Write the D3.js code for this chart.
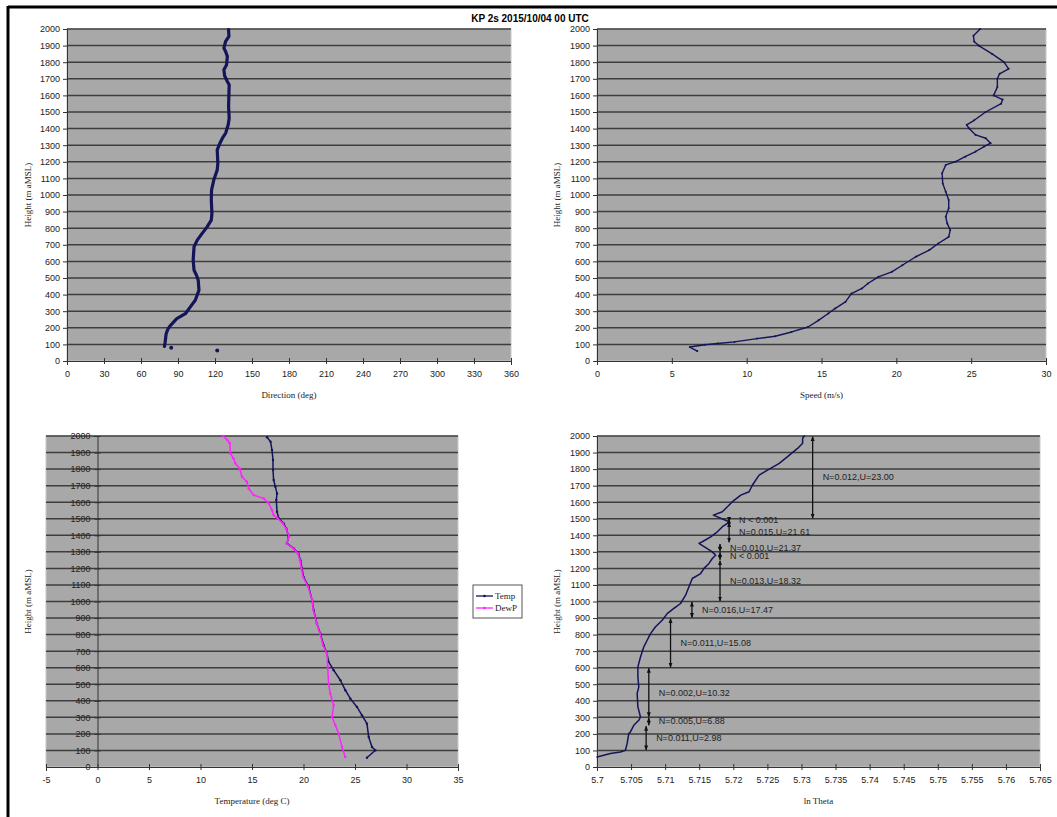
<!DOCTYPE html>
<html>
<head>
<meta charset="utf-8">
<script src="https://cdn.jsdelivr.net/npm/d3@7"></script>
<style>
  body { margin: 0; background: #fff; }
  .tick text { font-family: "Liberation Sans", Arial, sans-serif; font-size: 9px; fill: #222; }
  .title-axis { font-family: "Liberation Serif", "Times New Roman", serif; font-size: 9px; fill: #222; }
  .note { font-family: "Liberation Sans", Arial, sans-serif; font-size: 9px; fill: #222; }
</style>
</head>
<body>
<svg id="chart" width="1057" height="817"></svg>
<script>
// Profile data: [value, height m]
const directionProfile = [[79,88],[79.5,110],[80,140],[80.4,165],[82,195],[84,215],[89,255],[96,285],[100,326],[104,366],[107,427],[106.4,487],[105,517],[103,547],[102.3,608],[103,688],[105.6,728],[109.6,769],[113.7,809],[117,849],[117.5,889],[117,970],[117.2,1030],[119,1090],[121.8,1151],[122.3,1191],[121.8,1272],[124,1312],[126,1342],[128.6,1372],[130.7,1423],[131.5,1463],[131,1533],[131.3,1614],[131.5,1664],[130,1684],[127.8,1718],[127.2,1755],[129.4,1785],[130,1835],[128.6,1865],[127.2,1885],[128.6,1925],[131.3,1956],[131,1996]];
const directionStray = [[84.5,80],[121.8,64]];

const speedProfile = [[6.7,60],[6.2,84],[7.2,98],[8.06,105],[9.18,115],[10.7,135],[11.9,149],[13.0,175],[14.1,205],[14.8,245],[15.45,286],[15.9,316],[16.6,356],[17.0,406],[17.7,437],[18.1,467],[18.8,507],[19.7,537],[20.4,577],[21.3,628],[22.2,668],[22.8,708],[23.5,748],[23.6,789],[23.4,829],[23.3,869],[23.5,920],[23.5,970],[23.3,1020],[23.1,1070],[23.06,1131],[23.3,1181],[23.96,1201],[24.6,1231],[25.3,1262],[25.86,1292],[26.3,1312],[25.97,1342],[25.3,1362],[24.85,1402],[24.7,1423],[25.2,1450],[25.97,1500],[27.0,1550],[27.1,1575],[26.5,1600],[26.75,1650],[26.75,1700],[26.9,1730],[27.5,1760],[27.2,1800],[26.4,1850],[25.5,1900],[25.2,1925],[25.15,1960],[25.6,2000]];

const tempProfile = [[26.16,56],[26.97,101],[26.65,121],[26.33,181],[26.16,262],[25.68,312],[25.19,363],[24.55,413],[24.06,464],[23.58,524],[22.93,585],[22.44,635],[22.28,685],[21.96,736],[21.63,806],[21.3,867],[20.99,948],[20.83,1008],[20.5,1089],[20.0,1149],[19.85,1200],[19.7,1250],[19.5,1290],[19.04,1321],[18.4,1351],[18.56,1391],[18.33,1441],[18.07,1472],[17.6,1502],[17.43,1542],[17.36,1613],[17.43,1653],[17.27,1693],[17.1,1734],[17.04,1794],[17.04,1855],[16.94,1915],[16.8,1966],[16.46,1992]];
const dewpProfile = [[24.06,60],[23.74,121],[23.41,202],[23.09,252],[22.77,302],[22.93,373],[22.6,444],[22.44,504],[22.35,605],[22.28,685],[21.9,736],[21.6,806],[21.3,867],[20.95,948],[20.85,1008],[20.45,1089],[19.95,1149],[19.8,1200],[19.65,1250],[19.45,1290],[19.0,1321],[18.35,1351],[18.6,1391],[18.3,1441],[18.0,1472],[17.5,1502],[17.1,1522],[16.94,1552],[16.62,1593],[16.13,1623],[15.16,1643],[14.68,1683],[14.5,1724],[14.03,1754],[13.8,1804],[13.38,1835],[13.2,1865],[12.9,1895],[12.85,1956],[12.6,1976],[12.2,2000]];

const lnThetaProfile = [[5.7,60],[5.70196,81],[5.70343,91],[5.70417,101],[5.70442,141],[5.70466,202],[5.7049,212],[5.7054,252],[5.70613,282],[5.70638,302],[5.706,363],[5.70589,444],[5.70613,484],[5.706,544],[5.706,605],[5.70638,665],[5.70687,726],[5.70736,766],[5.70785,806],[5.70859,847],[5.70957,887],[5.7103,927],[5.71128,958],[5.71226,988],[5.713,1038],[5.71349,1089],[5.71398,1139],[5.71521,1169],[5.7157,1200],[5.71643,1230],[5.71692,1260],[5.71741,1280],[5.71692,1300],[5.71496,1351],[5.71545,1361],[5.71668,1391],[5.71766,1421],[5.7184,1452],[5.71913,1472],[5.71938,1482],[5.71707,1522],[5.7184,1542],[5.71913,1573],[5.71987,1603],[5.7211,1643],[5.72232,1663],[5.72281,1704],[5.72379,1764],[5.72502,1794],[5.72674,1835],[5.72796,1875],[5.72943,1925],[5.73017,1956],[5.73017,1986],[5.73042,2000]];

// Layer annotations: [ln theta position, top height, bottom height, label]
const layerNotes = [
  [5.73164, 2000, 1500, "N=0.012,U=23.00"],
  [5.71938, 1500, 1480, "N < 0.001"],
  [5.71938, 1480, 1355, "N=0.015,U=21.61"],
  [5.71805, 1350, 1300, "N=0.010,U=21.37"],
  [5.71805, 1300, 1250, "N < 0.001"],
  [5.71805, 1250, 1000, "N=0.013,U=18.32"],
  [5.71393, 1000, 900, "N=0.016,U=17.47"],
  [5.71079, 900, 600, "N=0.011,U=15.08"],
  [5.7076, 600, 300, "N=0.002,U=10.32"],
  [5.7076, 300, 250, "N=0.005,U=6.88"],
  [5.70721, 250, 100, "N=0.011,U=2.98"]
];

const heightTicks = d3.range(0, 2001, 100);
const directionTicks = d3.range(0, 361, 30);
const speedTicks = d3.range(0, 31, 5);
const tempTicks = d3.range(-5, 36, 5);
const lnThetaTicks = d3.range(0, 14).map(i => +(5.7 + i * 0.005).toFixed(3));
const legendItems = ["Temp", "DewP"];

const title = "KP 2s 2015/10/04 00 UTC";
const navy = "#14145a";
const pink = "#ff22ff";

const svg = d3.select("#chart");

// small arrow heads for the layer notes
const defs = svg.append("defs");
["start", "end"].forEach(k => {
  defs.append("marker")
    .attr("id", "arrow-" + k)
    .attr("viewBox", "0 0 10 10")
    .attr("refX", 9).attr("refY", 5)
    .attr("markerUnits", "userSpaceOnUse")
    .attr("markerWidth", 5).attr("markerHeight", 5)
    .attr("orient", k === "start" ? "auto-start-reverse" : "auto")
    .append("path")
    .attr("d", "M0,1L10,5L0,9z")
    .attr("fill", "#111");
});

// outer frame (only top and left edges show)
svg.append("line").attr("x1", 8).attr("x2", 1057).attr("y1", 7).attr("y2", 7)
  .attr("stroke", "#000").attr("stroke-width", 3);
svg.append("line").attr("x1", 8).attr("x2", 8).attr("y1", 6).attr("y2", 817)
  .attr("stroke", "#000").attr("stroke-width", 3);

svg.append("text")
  .attr("x", 530).attr("y", 22)
  .attr("text-anchor", "middle")
  .style("font-family", "'Liberation Sans', Arial, sans-serif")
  .style("font-size", "10px").style("font-weight", "bold")
  .text(title);

// draws one panel and returns its scales
const panel = (opt) => {
  const x = d3.scaleLinear().domain(opt.xDomain).range([opt.left, opt.right]);
  const y = d3.scaleLinear().domain([0, 2000]).range([opt.bottom, opt.top]);
  const g = svg.append("g");

  g.append("rect")
    .attr("x", opt.left).attr("y", opt.top)
    .attr("width", opt.right - opt.left).attr("height", opt.bottom - opt.top)
    .attr("fill", "#a8a8a8").attr("stroke", "#c8c8c8");

  // gridlines
  g.selectAll(".grid").data(heightTicks.filter(d => d > 0)).enter()
    .append("line")
    .attr("x1", opt.left).attr("x2", opt.right)
    .attr("y1", d => y(d)).attr("y2", d => y(d))
    .attr("stroke", "#3e3e3e").attr("stroke-width", 1.5);

  const yAxisX = opt.yAxisAt !== undefined ? x(opt.yAxisAt) : opt.left;

  const ya = g.append("g")
    .attr("transform", `translate(${yAxisX},0)`)
    .call(d3.axisLeft(y).tickValues(heightTicks).tickSize(4).tickPadding(3)
      .tickFormat(d => String(d)));
  ya.select(".domain").attr("stroke", "#333");
  ya.selectAll(".tick line").attr("stroke", "#333");
  if (opt.yAxisAt !== undefined) ya.selectAll(".tick line").attr("x2", 3).attr("x1", -3);

  const xa = g.append("g")
    .attr("transform", `translate(0,${opt.bottom})`)
    .call(d3.axisBottom(x).tickValues(opt.xTicks).tickSize(4).tickPadding(6)
      .tickFormat(d => String(d)));
  xa.select(".domain").attr("stroke", "#333");
  xa.selectAll(".tick line").attr("y1", -3).attr("y2", 3).attr("stroke", "#333");

  g.append("text").attr("class", "title-axis")
    .attr("x", (opt.left + opt.right) / 2).attr("y", opt.bottom + 37)
    .attr("text-anchor", "middle").text(opt.xTitle);

  g.append("text").attr("class", "title-axis")
    .attr("transform", `translate(${opt.yTitleX},${(opt.top + opt.bottom) / 2}) rotate(-90)`)
    .attr("text-anchor", "middle").text("Height (m aMSL)");

  return { x, y, g };
};

const profileLine = (p, data, color, width) => {
  p.g.append("path")
    .datum(data)
    .attr("fill", "none")
    .attr("stroke", color)
    .attr("stroke-width", width)
    .attr("stroke-linejoin", "round")
    .attr("stroke-linecap", "round")
    .attr("d", d3.line().x(d => p.x(d[0])).y(d => p.y(d[1])));
};

const profileDots = (p, data, color, r) => {
  p.g.selectAll(null).data(data).enter()
    .append("circle")
    .attr("cx", d => p.x(d[0])).attr("cy", d => p.y(d[1]))
    .attr("r", r).attr("fill", color);
};

// Direction
const pDir = panel({ left: 67, right: 511, top: 29, bottom: 361,
  xDomain: [0, 360], xTicks: directionTicks, xTitle: "Direction (deg)", yTitleX: 31 });
profileLine(pDir, directionProfile, navy, 3.2);
profileDots(pDir, directionStray, navy, 2);

// Speed
const pSpd = panel({ left: 597, right: 1046, top: 29, bottom: 361,
  xDomain: [0, 30], xTicks: speedTicks, xTitle: "Speed (m/s)", yTitleX: 560 });
profileLine(pSpd, speedProfile, navy, 1.4);
profileDots(pSpd, speedProfile, navy, 1);

// Temperature / dew point
const pTmp = panel({ left: 46, right: 458, top: 436, bottom: 767, yAxisAt: 0,
  xDomain: [-5, 35], xTicks: tempTicks, xTitle: "Temperature (deg C)", yTitleX: 31 });
profileLine(pTmp, tempProfile, navy, 1.5);
profileDots(pTmp, tempProfile, navy, 1.2);
profileLine(pTmp, dewpProfile, pink, 1.5);
profileDots(pTmp, dewpProfile, pink, 1.2);

// legend
const lg = svg.append("g").attr("transform", "translate(473,585)");
lg.append("rect").attr("width", 49).attr("height", 33)
  .attr("fill", "#fff").attr("stroke", "#555");
legendItems.forEach((name, i) => {
  const c = i === 0 ? navy : pink;
  const yy = 11 + i * 12;
  lg.append("line").attr("x1", 3).attr("x2", 20).attr("y1", yy).attr("y2", yy)
    .attr("stroke", c).attr("stroke-width", 1.3);
  lg.append("circle").attr("cx", 11.5).attr("cy", yy).attr("r", 1.3).attr("fill", c);
  lg.append("text").attr("class", "title-axis").attr("x", 22).attr("y", yy + 3).text(name);
});

// ln Theta
const pTh = panel({ left: 597, right: 1040, top: 436, bottom: 767,
  xDomain: [5.7, 5.765], xTicks: lnThetaTicks, xTitle: "ln Theta", yTitleX: 560 });
profileLine(pTh, lnThetaProfile, navy, 1.5);

pTh.g.selectAll(".layer").data(layerNotes).enter()
  .append("line")
  .attr("x1", d => pTh.x(d[0])).attr("x2", d => pTh.x(d[0]))
  .attr("y1", d => pTh.y(d[1]) + 0.5).attr("y2", d => pTh.y(d[2]) - 0.5)
  .attr("stroke", "#111").attr("stroke-width", 1.3)
  .attr("marker-start", "url(#arrow-start)")
  .attr("marker-end", "url(#arrow-end)");

pTh.g.selectAll(".note").data(layerNotes).enter()
  .append("text").attr("class", "note")
  .attr("x", d => pTh.x(d[0]) + 10)
  .attr("y", d => pTh.y((d[1] + d[2]) / 2) + 3)
  .text(d => d[3]);
</script>
</body>
</html>
